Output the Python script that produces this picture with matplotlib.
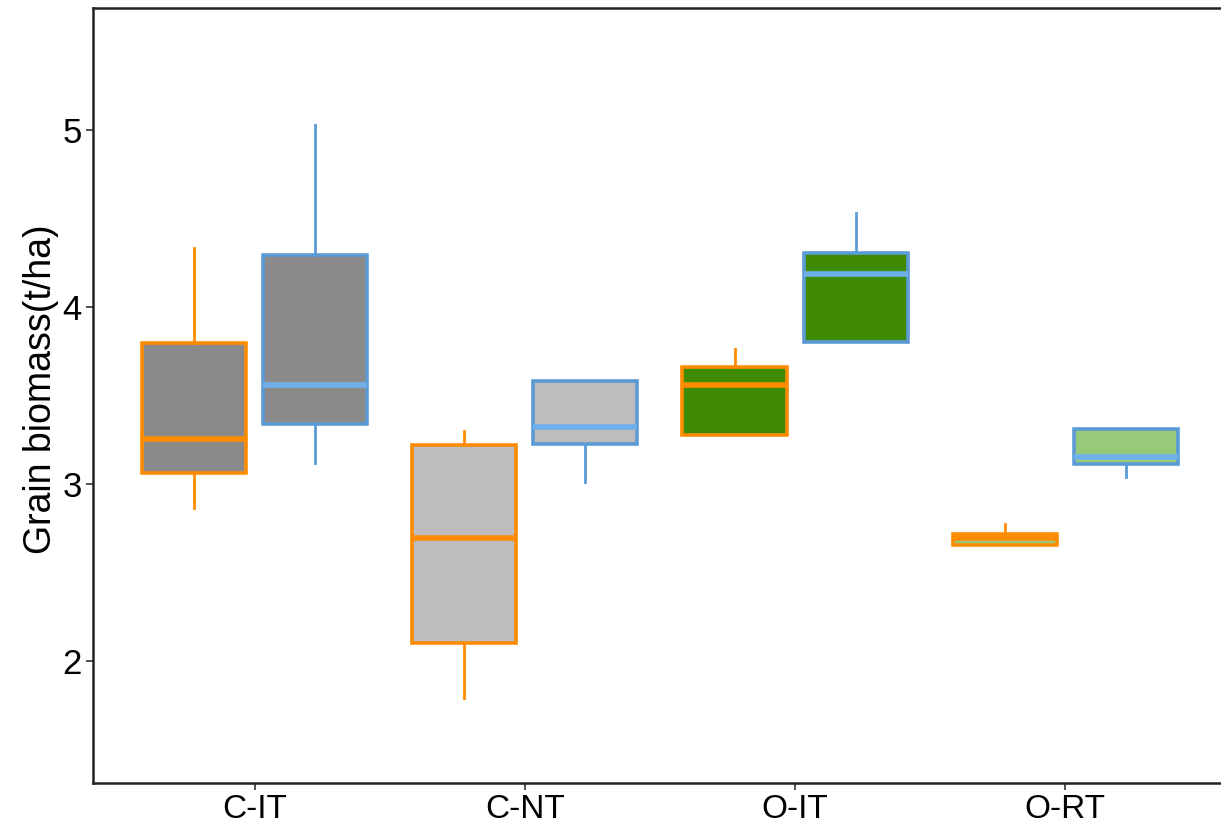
import matplotlib
matplotlib.use("Agg")
import matplotlib.pyplot as plt
import numpy as np

categories = ["C-IT", "C-NT", "O-IT", "O-RT"]

# box statistics: (whisker low, q1, median, q3, whisker high)
orange_low = [2.864, 1.790, 3.276, 2.655]
orange_q1 = [3.062, 2.102, 3.276, 2.655]
orange_med = [3.253, 2.695, 3.558, 2.695]
orange_q3 = [3.795, 3.220, 3.660, 2.717]
orange_high = [4.331, 3.299, 3.762, 2.774]

blue_low = [3.117, 3.011, 3.801, 3.040]
blue_q1 = [3.337, 3.225, 3.801, 3.112]
blue_med = [3.558, 3.321, 4.185, 3.152]
blue_q3 = [4.292, 3.581, 4.303, 3.310]
blue_high = [5.025, 3.581, 4.529, 3.310]

fill_colors = ["#8a8a8a", "#bdbdbd", "#3e8a05", "#97c97a"]
orange_edge = "#ff8c00"
blue_edge = "#5b9bd5"
blue_median = "#6fb0ec"

plt.rcParams["font.family"] = ["Liberation Sans", "DejaVu Sans"]

fig = plt.figure(figsize=(12.21, 8.27), dpi=100)
ax = fig.add_axes([0.0762, 0.0532, 1.003 - 0.0762, 0.9903 - 0.0532])


def make_stats(low, q1, med, q3, high):
    out = []
    for a, b, c, d, e in zip(low, q1, med, q3, high):
        out.append(dict(whislo=a, q1=b, med=c, q3=d, whishi=e, fliers=[]))
    return out


x = np.arange(len(categories))
offset = 0.224
width = 0.385

for stats, pos, edge, medc in [
    (make_stats(orange_low, orange_q1, orange_med, orange_q3, orange_high), x - offset, orange_edge, orange_edge),
    (make_stats(blue_low, blue_q1, blue_med, blue_q3, blue_high), x + offset, blue_edge, blue_median),
]:
    bp = ax.bxp(stats, positions=pos, widths=width, patch_artist=True,
                showfliers=False, showcaps=False,
                boxprops=dict(edgecolor=edge, linewidth=2.6),
                whiskerprops=dict(color=edge, linewidth=2.0),
                medianprops=dict(color=medc, linewidth=4.0))
    for patch, fc in zip(bp["boxes"], fill_colors):
        patch.set_facecolor(fc)

ax.set_xlim(-0.598, 3.590)
ax.set_ylim(1.311, 5.686)
ax.set_xticks(x)
ax.set_xticklabels(categories, fontsize=24)
ax.set_yticks([2, 3, 4, 5])
ax.set_yticklabels(["2", "3", "4", "5"], fontsize=25)
ax.tick_params(axis="both", length=5, width=1.2, color="#333333", pad=3)
for s in ax.spines.values():
    s.set_linewidth(1.8)
    s.set_color("#222222")
ax.set_ylabel("Grain biomass(t/ha)", fontsize=27)
ax.yaxis.set_label_coords(-0.030, 0.508)

fig.savefig("out.png", dpi=100)
